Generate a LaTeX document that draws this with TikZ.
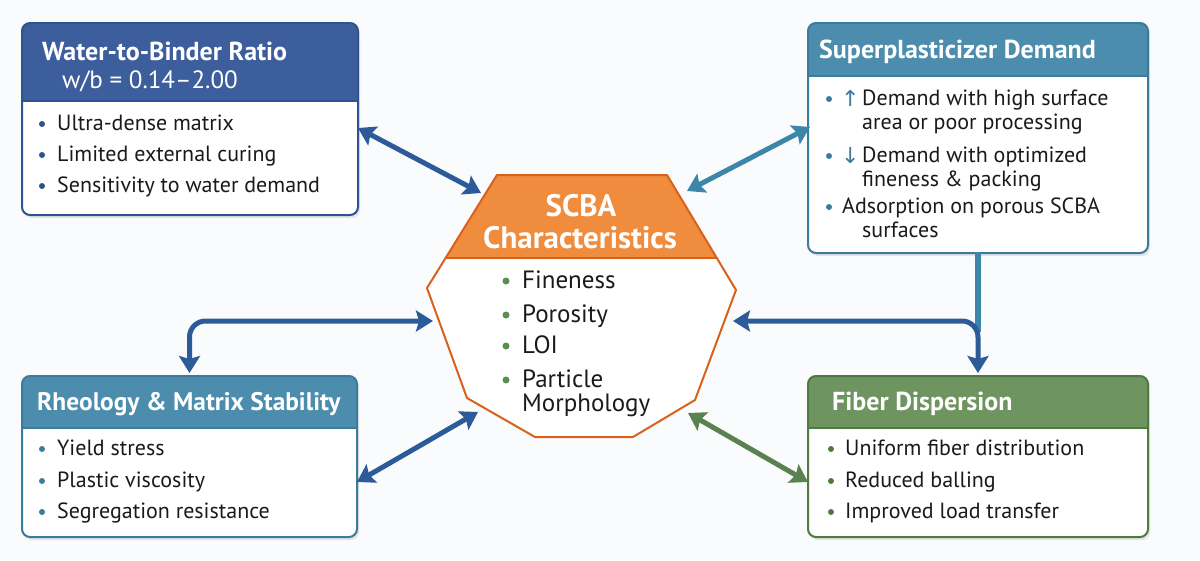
\documentclass[tikz,border=0pt]{standalone}
\usepackage{fontspec}
\setmainfont{PT Sans}
\newfontfamily\dejavu{DejaVu Sans}
\usetikzlibrary{arrows.meta}
\definecolor{hblue}{HTML}{3D5E9C}
\definecolor{bblue}{HTML}{2E5390}
\definecolor{hteal}{HTML}{4C8DAE}
\definecolor{bteal}{HTML}{3A7C9E}
\definecolor{hgreen}{HTML}{6E9460}
\definecolor{bgreen}{HTML}{4F7A40}
\definecolor{horange}{HTML}{EF8C3E}
\definecolor{borange}{HTML}{D8621C}
\definecolor{ablue}{HTML}{2D5B9A}
\definecolor{ateal}{HTML}{3C86AA}
\definecolor{agreen}{HTML}{5A8150}
\definecolor{dgreen}{HTML}{5A8F50}
\definecolor{txt}{HTML}{1A1A1A}
\definecolor{bg}{HTML}{FAFBFC}
\tikzset{
  hdr/.style={font=\fontsize{26}{30}\selectfont\bfseries, text=white, inner sep=0pt, anchor=base west},
  body/.style={font=\fontsize{22}{26}\selectfont, text=txt, inner sep=0pt, anchor=base west},
  ctr/.style={font=\fontsize{25}{29}\selectfont, text=txt, inner sep=0pt, anchor=base west},
  arr/.style={line width=5pt, {Stealth[length=17pt,width=21pt,inset=3pt]}-{Stealth[length=17pt,width=21pt,inset=3pt]}},
}
% box: name, x1,y1,x2,y2, header bottom, header colour, border colour
\newcommand{\mybox}[8]{%
  \fill[black!10] (#2+2,#3+3) [rounded corners=8pt] rectangle (#4+2,#5+3);
  \begin{scope}
    \clip[rounded corners=8pt] (#2,#3) rectangle (#4,#5);
    \fill[white] (#2,#3) rectangle (#4,#5);
    \fill[#7] (#2,#3) rectangle (#4,#6);
  \end{scope}
  \draw[#8, line width=2pt] (#2,#6) -- (#4,#6);
  \draw[#8, line width=2pt, rounded corners=8pt] (#2,#3) rectangle (#4,#5);
  \coordinate (#1-nw) at (#2,#3);
  \coordinate (#1-se) at (#4,#5);
  \node[inner sep=0pt] (#1) at ({(#2+#4)/2},{(#3+#5)/2}) {};
}
\newcommand{\bul}[3]{\fill[#1] (#2,#3-6) circle (3pt);}
\newcommand{\cbul}[3]{\fill[#1] (#2,#3-7) circle (3.5pt);}
\begin{document}
\begin{tikzpicture}[x=1pt,y=-1pt]
\useasboundingbox (0,0) rectangle (1200,560);
\fill[bg] (0,0) rectangle (1200,560);

% ---------- boxes
\mybox{wb}{22}{23}{358}{215}{101}{hblue}{bblue}
\mybox{sp}{808}{23}{1148}{253}{76}{hteal}{bteal}
\mybox{rh}{22}{376}{357}{537}{428}{hteal}{bteal}
\mybox{fd}{808}{376}{1148}{537}{428}{hgreen}{bgreen}

% ---------- hexagon
\coordinate (h1) at (497,175);
\coordinate (h2) at (667,175);
\coordinate (h3) at (736,290);
\coordinate (h4) at (695,400);
\coordinate (h5) at (633,437);
\coordinate (h6) at (535,437);
\coordinate (h7) at (467,398);
\coordinate (h8) at (427,288);
\fill[white] (h1)--(h2)--(h3)--(h4)--(h5)--(h6)--(h7)--(h8)--cycle;
\begin{scope}
  \clip (h1)--(h2)--(h3)--(h4)--(h5)--(h6)--(h7)--(h8)--cycle;
  \fill[horange] (400,150) rectangle (760,258);
  \draw[borange, line width=1.5pt] (400,258) -- (760,258);
\end{scope}
\draw[borange, line width=2pt, line join=round] (h1)--(h2)--(h3)--(h4)--(h5)--(h6)--(h7)--(h8)--cycle;

% ---------- connectors
\coordinate (hexL) at (433,321);
\coordinate (hexR) at (733,321);
\coordinate (spj) at (978,332);
\draw[ateal, line width=6pt] ([yshift=1pt]sp.south |- sp-se) -- (spj);
\draw[arr, ablue, rounded corners=16pt] (hexL) -| ([yshift=3pt]rh.north |- rh-nw);
\draw[arr, ablue, rounded corners=16pt] (hexR) -| ([yshift=3pt]fd.north |- fd-nw);
\coordinate (a1s) at (358,128); \coordinate (a1e) at (481,193);
\draw[arr, ablue] (a1s) -- (a1e);
\coordinate (a2s) at (810,127); \coordinate (a2e) at (687,191);
\draw[arr, ateal] (a2s) -- (a2e);
\coordinate (a5s) at (357,482); \coordinate (a5e) at (478,412);
\draw[arr, ablue] (a5s) -- (a5e);
\coordinate (a6s) at (688,413); \coordinate (a6e) at (808,482);
\draw[arr, agreen] (a6s) -- (a6e);

% ---------- texts top-left
\node[hdr] (wbt) at (42,60) {Water-to-Binder Ratio};
\node[hdr, font=\fontsize{25}{29}\selectfont] (wbt2) at (62,88) {w/b = 0.14–2.00};
\bul{bblue}{42}{130}\node[body] (wb1) at (57,130) {Ultra-dense matrix};
\bul{bblue}{42}{161}\node[body] (wb2) at (57,161) {Limited external curing};
\bul{bblue}{42}{192}\node[body] (wb3) at (57,192) {Sensitivity to water demand};

% ---------- texts top-right
\node[hdr] (spt) at (819,58) {Superplasticizer Demand};
\bul{bteal}{829}{105}
\node[body, text=bteal, font=\fontsize{22}{26}\selectfont\dejavu] (up) at (841,106) {↑};
\node[body] (sp1) at (862,105) {Demand with high surface};
\node[body] (sp2) at (862,129) {area or poor processing};
\bul{bteal}{829}{162}
\node[body, text=bteal, font=\fontsize{22}{26}\selectfont\dejavu] (dn) at (841,163) {↓};
\node[body] (sp3) at (862,162) {Demand with optimized};
\node[body] (sp4) at (862,186) {fineness \& packing};
\bul{bteal}{829}{213}\node[body] (sp5) at (842,213) {Adsorption on porous SCBA};
\node[body] (sp6) at (862,237) {surfaces};

% ---------- texts bottom-left
\node[hdr, font=\fontsize{25.4}{30}\selectfont\bfseries] (rht) at (37,410) {Rheology \& Matrix Stability};
\bul{bteal}{42}{455}\node[body] (rh1) at (57,455) {Yield stress};
\bul{bteal}{42}{487}\node[body] (rh2) at (57,487) {Plastic viscosity};
\bul{bteal}{42}{518}\node[body] (rh3) at (57,518) {Segregation resistance};

% ---------- texts bottom-right
\node[hdr] (fdt) at (832,410) {Fiber Dispersion};
\bul{bgreen}{831}{455}\node[body] (fd1) at (845,455) {Uniform fiber distribution};
\bul{bgreen}{831}{487}\node[body] (fd2) at (845,487) {Reduced balling};
\bul{bgreen}{831}{518}\node[body] (fd3) at (845,518) {Improved load transfer};

% ---------- centre texts
\node[font=\fontsize{31}{35}\selectfont\bfseries, text=white, inner sep=0pt, anchor=base] (sc1) at (581,216) {SCBA};
\node[font=\fontsize{31}{35}\selectfont\bfseries, text=white, inner sep=0pt, anchor=base] (sc2) at (580,248) {Characteristics};
\cbul{dgreen}{506}{288}\node[ctr] (c1) at (522,288) {Fineness};
\cbul{dgreen}{506}{322}\node[ctr] (c2) at (522,322) {Porosity};
\cbul{dgreen}{506}{353}\node[ctr] (c3) at (522,353) {LOI};
\cbul{dgreen}{506}{387}\node[ctr] (c4) at (522,387) {Particle};
\node[ctr] (c5) at (522,411) {Morphology};
\end{tikzpicture}
\end{document}
